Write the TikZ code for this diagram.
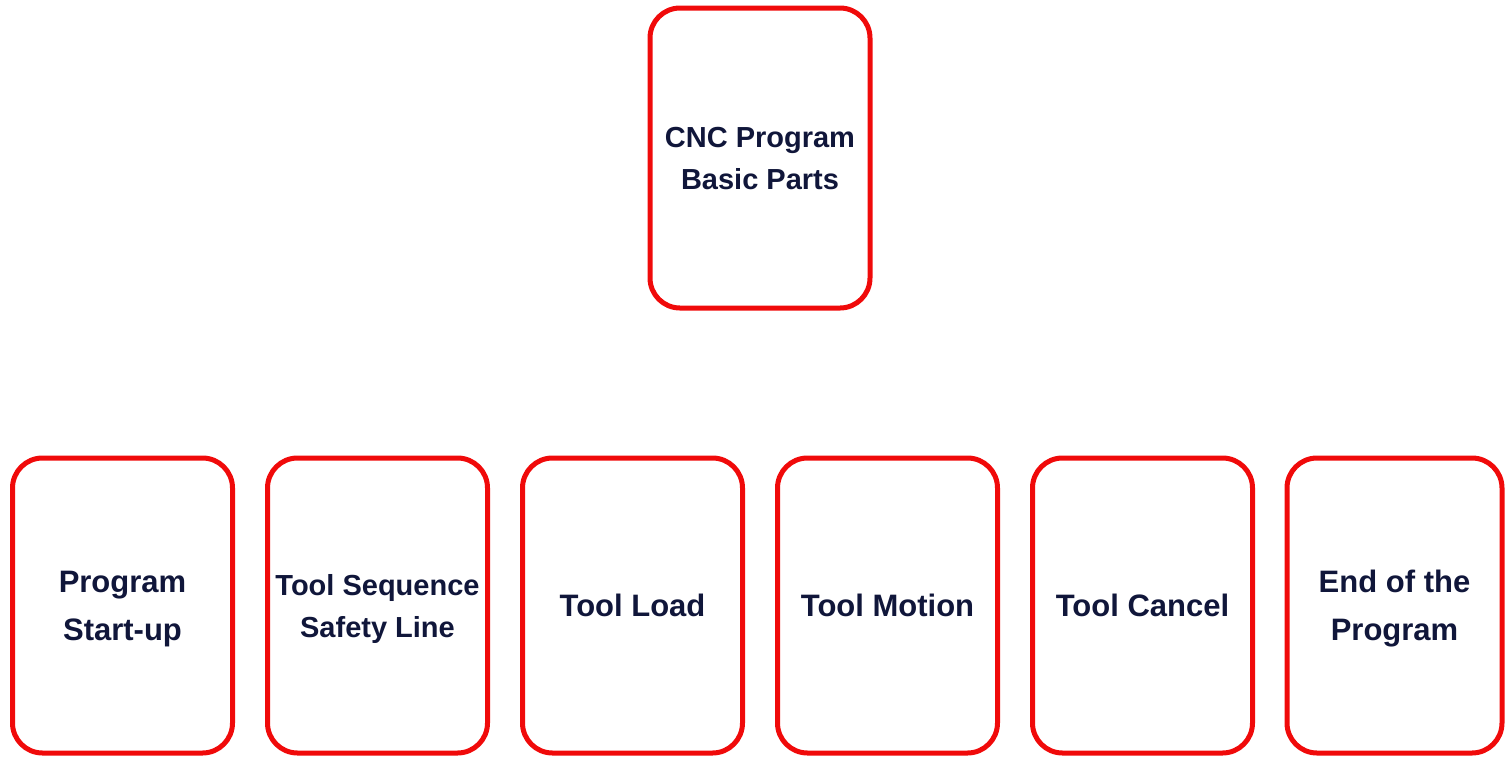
\documentclass[tikz,border=0pt]{standalone}
\usepackage{fontspec}
\setmainfont{Liberation Sans}

\definecolor{partred}{HTML}{F00A0A}
\definecolor{partink}{HTML}{10163A}

\tikzset{
  part/.style={draw=partred, line width=2.5pt, rounded corners=15pt,
    minimum width=110pt, minimum height=147.5pt, inner sep=1pt, text depth=-6pt,
    align=center, text=partink, font=\bfseries\fontsize{15.5}{24}\selectfont},
  smalltext/.style={font=\bfseries\fontsize{14.5}{21}\selectfont}
}

\begin{document}
\begin{tikzpicture}[x=0.5pt,y=-0.5pt]
    \useasboundingbox (0,0) rectangle (1506,757);
    % top box
    \node[part, smalltext, minimum height=150pt] (cnc) at (760,158) {CNC Program\\Basic Parts};
    % the six parts
    \node[part] (startup) at (122.5,605.5) {Program\\Start-up};
    \node[part, smalltext] (safety) at (377.5,605.5) {Tool Sequence\\Safety Line};
    \node[part] (load) at (632.5,605.5) {Tool Load};
    \node[part] (motion) at (887.5,605.5) {Tool Motion};
    \node[part] (cancel) at (1142.5,605.5) {Tool Cancel};
    \node[part, minimum width=107.5pt] (progend) at (1394.5,605.5) {End of the\\Program};
\end{tikzpicture}
\end{document}
